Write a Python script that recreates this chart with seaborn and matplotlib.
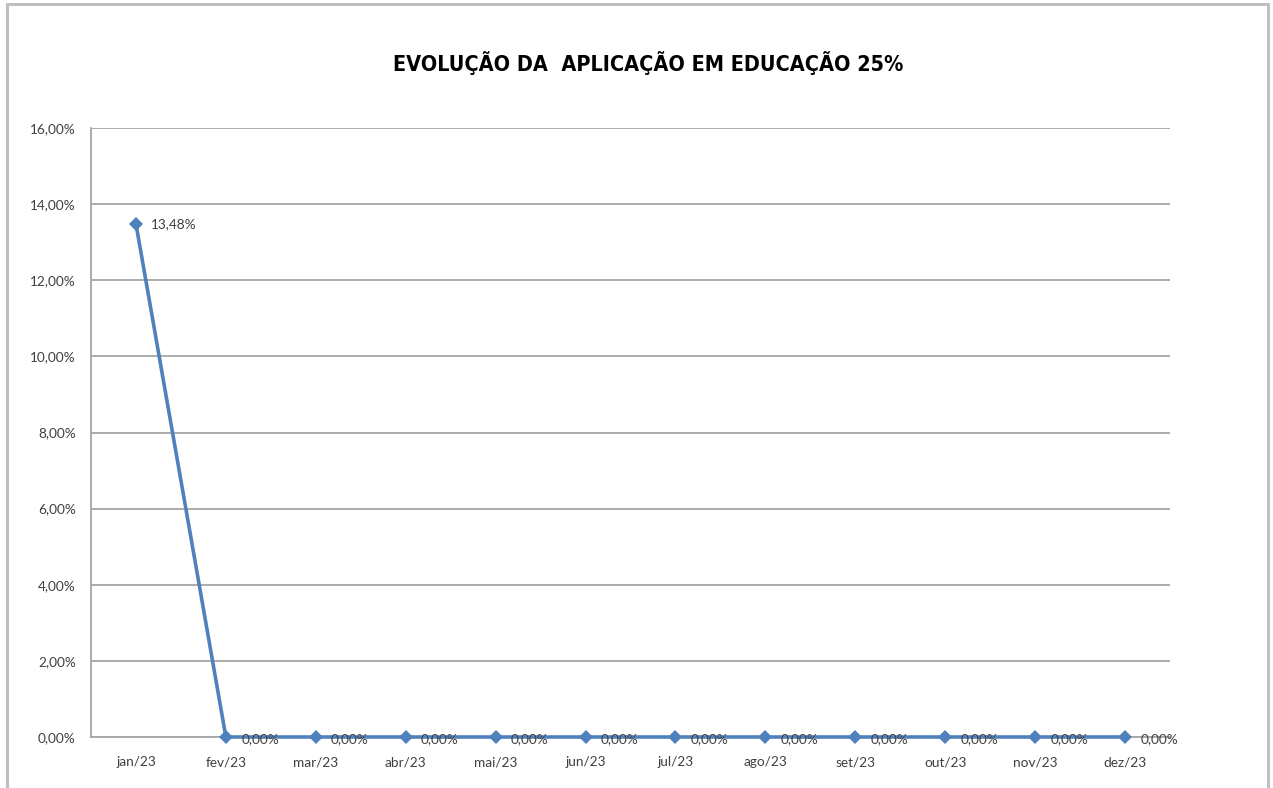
import matplotlib
matplotlib.use("Agg")
import matplotlib.pyplot as plt
import seaborn as sns
import pandas as pd
from matplotlib.lines import Line2D
from matplotlib.ticker import FuncFormatter, FixedLocator

categories = ["jan/23", "fev/23", "mar/23", "abr/23", "mai/23", "jun/23",
              "jul/23", "ago/23", "set/23", "out/23", "nov/23", "dez/23"]
values = [13.48, 0.00, 0.00, 0.00, 0.00, 0.00, 0.00, 0.00, 0.00, 0.00, 0.00, 0.00]
y_ticks = [0, 2, 4, 6, 8, 10, 12, 14, 16]
title = "EVOLUÇÃO DA  APLICAÇÃO EM EDUCAÇÃO 25%"

df = pd.DataFrame({"mes": categories, "valor": values})

sns.set_theme(style="white")
plt.rcParams["font.family"] = ["Lato", "DejaVu Sans"]

W, H = 1273, 788
fig = plt.figure(figsize=(W / 100, H / 100), dpi=100)
ax = fig.add_axes([91 / W, 1 - 737 / H, (1170 - 91) / W, (737 - 128) / H])

line_color = "#4F81BD"
sns.lineplot(data=df, x="mes", y="valor", ax=ax, color=line_color, linewidth=2.6,
             marker="D", markersize=7, markeredgewidth=0, sort=False, zorder=3)
for ln in ax.lines:
    ln.set_clip_on(False)

ax.set_xlim(-0.5, len(categories) - 0.5)
ax.set_ylim(0, 16)
ax.yaxis.set_major_locator(FixedLocator(y_ticks))
ax.yaxis.set_major_formatter(FuncFormatter(lambda v, p: f"{v:.2f}%".replace(".", ",")))
ax.grid(axis="y", color="#A6A6A6", linewidth=1.3)
ax.set_axisbelow(True)

ax.set_xlabel("")
ax.set_ylabel("")

for s in ["top", "right"]:
    ax.spines[s].set_visible(False)
for s in ["left", "bottom"]:
    ax.spines[s].set_color("#A6A6A6")
    ax.spines[s].set_linewidth(1.3)

lab_fs = 9.8
# x ticks: labels at categories, tick marks at boundaries
ax.set_xticks(range(len(categories)))
ax.set_xticklabels(categories)
ax.tick_params(axis="x", which="major", length=0, pad=14, labelsize=lab_fs, labelcolor="#404040")
ax.set_xticks([i - 0.5 for i in range(len(categories) + 1)], minor=True)
ax.tick_params(axis="x", which="minor", length=5, width=1.3, color="#A6A6A6", direction="out")
ax.tick_params(axis="y", which="major", length=5, width=1.3, color="#A6A6A6",
               direction="out", pad=6, labelsize=lab_fs, labelcolor="#404040")

for i, v in enumerate(values):
    lbl = f"{v:.2f}%".replace(".", ",")
    dy = 0 if v > 0 else -1.5
    ax.annotate(lbl, (i, v), xytext=(11, dy), textcoords="offset points",
                ha="left", va="center", fontsize=lab_fs, color="#404040", zorder=4)

fig.text(648 / W, 1 - 63 / H, title, ha="center", va="center", fontsize=15.5,
         fontweight="heavy", fontstretch="condensed", family=["DejaVu Sans"], color="black")

# outer chart border (left, top, right)
bc = "#BFBFBF"
lw = 2.2
fig.add_artist(Line2D([7 / W, 7 / W], [0, 1 - 4 / H], color=bc, linewidth=lw))
fig.add_artist(Line2D([7 / W, 1268 / W], [1 - 4 / H, 1 - 4 / H], color=bc, linewidth=lw))
fig.add_artist(Line2D([1268 / W, 1268 / W], [0, 1 - 4 / H], color=bc, linewidth=lw))

fig.savefig("out.png", dpi=100)
